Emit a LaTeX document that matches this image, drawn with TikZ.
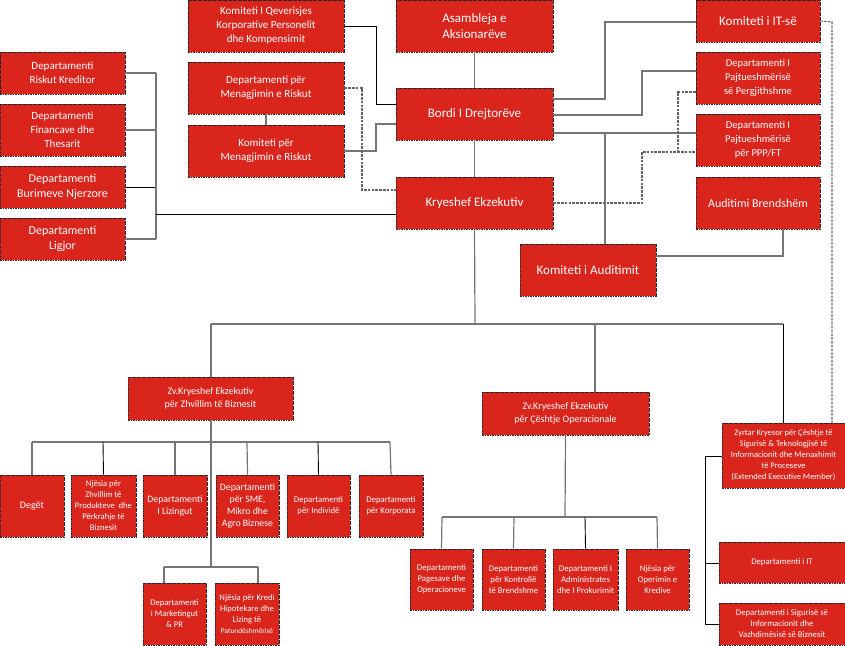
\documentclass[tikz,border=0pt]{standalone}
\usepackage{fontspec}
\setmainfont{Carlito}
\definecolor{boxred}{RGB}{218,37,29}
\definecolor{lngray}{RGB}{118,118,118}
\newcommand{\fsz}[2]{\fontsize{#1pt}{#2pt}\selectfont}
\tikzset{
 box/.style={draw=black!85, dash pattern=on 1.6pt off 0.9pt, line width=0.7pt, fill=boxred, text=white, align=center, inner sep=0pt},
 ln/.style={draw=lngray, line width=1.2pt},
 lnk/.style={draw=black, line width=0.9pt},
 dln/.style={draw=lngray!85!black, line width=1.1pt, dash pattern=on 2.6pt off 1.2pt},
}
\begin{document}
\begin{tikzpicture}[x=1pt,y=-1pt]
\useasboundingbox (0,0) rectangle (845,645);
% top middle
\node[box,minimum width=156pt,minimum height=52pt,font=\fsz{11}{14}] (kq) at (266,26) {Komiteti I Qeverisjes\\Korporative Personelit\\dhe Kompensimit};
\node[box,minimum width=156pt,minimum height=52pt,font=\fsz{11}{14}] (dmr) at (266,88) {Departamenti për\\Menagjimin e Riskut};
\node[box,minimum width=156pt,minimum height=52pt,font=\fsz{11}{14}] (kmr) at (266,151) {Komiteti për\\Menagjimin e Riskut};
% left column
\node[box,minimum width=125pt,minimum height=42pt,font=\fsz{11}{14}] (drk) at (62.5,73) {Departamenti\\Riskut Kreditor};
\node[box,minimum width=125pt,minimum height=52pt,font=\fsz{11}{14}] (dft) at (62.5,130) {Departamenti\\Financave dhe\\Thesarit};
\node[box,minimum width=125pt,minimum height=42pt,font=\fsz{12}{15}] (dbn) at (62.5,187) {Departamenti\\Burimeve Njerzore};
\node[box,minimum width=125pt,minimum height=42pt,font=\fsz{12}{15}] (dl) at (62.5,239) {Departamenti\\Ligjor};
% centre column
\node[box,minimum width=157pt,minimum height=52pt,font=\fsz{13}{16}] (asm) at (474.5,26) {Asambleja e\\Aksionarëve};
\node[box,minimum width=157pt,minimum height=52pt,font=\fsz{13}{16}] (bordi) at (474.5,114) {Bordi I Drejtorëve};
\node[box,minimum width=157pt,minimum height=52pt,font=\fsz{13}{16}] (ke) at (474.5,203) {Kryeshef Ekzekutiv};
% right column
\node[box,minimum width=124pt,minimum height=42pt,font=\fsz{13}{16}] (kit) at (758,21) {Komiteti i IT-së};
\node[box,minimum width=124pt,minimum height=52pt,font=\fsz{10.5}{14}] (dpp) at (758,78) {Departamenti I\\Pajtueshmërisë\\së Pergjithshme};
\node[box,minimum width=124pt,minimum height=52pt,font=\fsz{10.5}{14}] (dppp) at (758,140) {Departamenti I\\Pajtueshmërisë\\për PPP/FT};
\node[box,minimum width=124pt,minimum height=52pt,font=\fsz{12}{15}] (ab) at (758,203) {Auditimi Brendshëm};
\node[box,minimum width=136pt,minimum height=52pt,font=\fsz{13}{16}] (ka) at (588,270) {Komiteti i Auditimit};
% deputies
\node[box,minimum width=165pt,minimum height=43pt,font=\fsz{10}{12.5}] (zvz) at (210.5,398.5) {Zv.Kryeshef Ekzekutiv\\për Zhvillim të Biznesit};
\node[box,minimum width=167pt,minimum height=43pt,font=\fsz{10}{12.5}] (zvo) at (565.5,413.5) {Zv.Kryeshef Ekzekutiv\\për Çështje Operacionale};
% business children
\node[box,minimum width=64pt,minimum height=62pt,font=\fsz{10}{12}] (deg) at (32,506) {Degët};
\node[box,minimum width=65pt,minimum height=62pt,font=\fsz{8.6}{11}] (nzh) at (103.5,506) {Njësia për\\Zhvillim të\\Produkteve~ dhe\\Përkrahje të\\Biznesit};
\node[box,minimum width=64pt,minimum height=62pt,font=\fsz{9.8}{12}] (dliz) at (175,506) {Departamenti\\I Lizingut};
\node[box,minimum width=63pt,minimum height=62pt,font=\fsz{9.8}{12}] (dsme) at (247.5,506) {Departamenti\\për SME,\\Mikro dhe\\Agro Biznese};
\node[box,minimum width=63pt,minimum height=62pt,font=\fsz{8.7}{11}] (dind) at (318.5,506) {Departamenti\\për Individë};
\node[box,minimum width=64pt,minimum height=62pt,font=\fsz{8.7}{11}] (dkor) at (391,506) {Departamenti\\për Korporata};
\node[box,minimum width=63pt,minimum height=62pt,font=\fsz{8.6}{11}] (dmpr) at (174.5,614) {Departamenti\\i Marketingut\\\& PR};
\node[box,minimum width=64pt,minimum height=62pt,font=\fsz{8.6}{11}] (nkh) at (247,614) {Njësia për Kredi\\Hipotekare dhe\\Lizing të\\{\fsz{7.4}{9}Patundëshmërisë}};
% operations children
\node[box,minimum width=63pt,minimum height=61pt,font=\fsz{8.7}{11}] (dpo) at (441.5,579.5) {Departamenti\\Pagesave dhe\\Operacioneve};
\node[box,minimum width=63pt,minimum height=61pt,font=\fsz{8.7}{11}] (dkb) at (513.5,579.5) {Departamenti\\për Kontrollë\\të Brendshme};
\node[box,minimum width=65pt,minimum height=61pt,font=\fsz{8.7}{11}] (dap) at (585.5,579.5) {Departamenti I\\Administrates\\dhe I Prokurimit};
\node[box,minimum width=63pt,minimum height=61pt,font=\fsz{8.7}{11}] (noc) at (657.5,579.5) {Njësia për\\Operimin e\\Kredive};
% IT / security
\node[box,minimum width=123pt,minimum height=65pt,font=\fsz{8.5}{11}] (zk) at (783.5,455.5) {Zyrtar Kryesor për Çështje të\\Sigurisë \& Teknologjisë të\\Informacionit dhe Menaxhimit\\të Proceseve\\(Extended Executive Member)};
\node[box,minimum width=126pt,minimum height=41pt,font=\fsz{8.7}{11}] (dit) at (782,562.5) {Departamenti i IT};
\node[box,minimum width=126pt,minimum height=42pt,font=\fsz{8.7}{11}] (dsig) at (782,624) {Departamenti i Sigurisë së\\Informacionit dhe\\Vazhdimësisë së Biznesit};
% ---- connectors ----
\coordinate (jtop) at (475,324);
\coordinate (jl) at (211,324);
\coordinate (jm) at (595,324);
\coordinate (jr) at (783,324);
\draw[ln] (asm) -- (bordi);
\draw[ln] (bordi) -- (ke);
\draw[ln] (ke.south) -- (jtop);
\draw[lnk] (kq.east) -- (376,26) -- (376,104) -- (bordi.west |- 0,104);
\draw[ln] (kmr.east) -- (376,151) -- (376,124) -- (bordi.west |- 0,124);
\draw[dln] (dmr.east) -- (362,88) -- (362,190) -- (ke.west |- 0,190);
\draw[ln] (dmr) -- (kmr);
% left bracket
\draw[ln] (drk.east) -- (156,73);
\draw[ln] (dft.east) -- (156,130);
\draw[lnk] (dbn.east) -- (156,187);
\draw[ln] (dl.east) -- (156,239);
\draw[ln] (156,73) -- (156,239);
\draw[lnk] (156,214) -- (ke.west |- 0,214);
% right side
\draw[ln] (bordi.east |- 0,99) -- (605,99) -- (605,22) -- (kit.west |- 0,22);
\draw[ln] (bordi.east |- 0,115) -- (642,115) -- (642,71) -- (dpp.west |- 0,71);
\draw[ln] (bordi.east |- 0,133) -- (dppp.west |- 0,133);
\coordinate (jka) at (605,133);
\draw[ln] (jka) -- (ka.north -| 605,0);
\draw[ln] (ab.south -| 783,0) -- (783,256) -- (ka.east |- 0,256);
\draw[dln] (ke.east) -- (642,203) -- (642,152) -- (dppp.west |- 0,152);
\draw[dln] (dpp.west |- 0,92) -- (678,92) -- (678,152);
\draw[dln] (kit.east) -- (832,22) -- (zk.north -| 832,0);
% bottom level
\draw[ln] (jl) -- (jr);
\draw[ln] (jl) -- (zvz.north -| jl);
\draw[ln] (jm) -- (zvo.north -| jm);
\draw[lnk] (jr) -- (zk.north -| jr);
% business bar
\coordinate (bz) at (211,442);
\draw[ln] (zvz.south -| bz) -- (211,567);
\draw[ln] (32,442) -- (390,442);
\draw[ln] (32,442) -- (deg.north);
\draw[lnk] (103,442) -- (nzh.north);
\draw[ln] (175,442) -- (dliz.north);
\draw[ln] (247,442) -- (dsme.north);
\draw[lnk] (318,442) -- (dind.north);
\draw[ln] (390,442) -- (dkor.north);
\draw[ln] (164,567) -- (258,567);
\draw[ln] (164,567) -- (dmpr.north -| 164,0);
\draw[ln] (258,567) -- (nkh.north -| 258,0);
% operations bar
\draw[ln] (zvo.south) -- (565,517);
\draw[ln] (442,517) -- (657,517);
\draw[ln] (442,517) -- (dpo.north);
\draw[ln] (514,517) -- (dkb.north);
\draw[lnk] (585,517) -- (dap.north);
\draw[ln] (657,517) -- (noc.north);
% IT bracket
\draw[lnk] (705,456) -- (705,624);
\draw[lnk] (705,456) -- (zk.west |- 0,456);
\draw[lnk] (705,563) -- (dit.west |- 0,563);
\draw[lnk] (705,624) -- (dsig.west |- 0,624);
\end{tikzpicture}
\end{document}
